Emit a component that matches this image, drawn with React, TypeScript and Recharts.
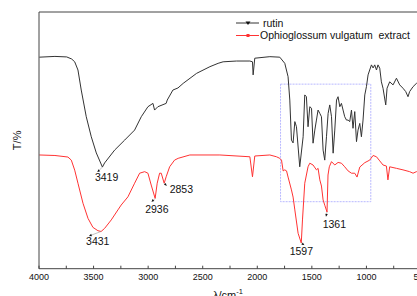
import React from 'react';
import { LineChart, Line, XAxis, YAxis, ReferenceArea, ReferenceDot, Legend } from 'recharts';

const rutinWavenumbers = [3997, 3854, 3746, 3701, 3673, 3643, 3613, 3567, 3521, 3475, 3419, 3399, 3307, 3215, 3124, 3063, 3002, 2956, 2941, 2911, 2835, 2825, 2773, 2727, 2679, 2556, 2434, 2359, 2313, 2190, 2068, 2044, 2038, 2023, 1885, 1794, 1748, 1718, 1702, 1687, 1672, 1656, 1641, 1611, 1580, 1565, 1550, 1535, 1519, 1503, 1489, 1473, 1458, 1443, 1427, 1412, 1397, 1382, 1366, 1351, 1336, 1320, 1305, 1290, 1274, 1260, 1244, 1229, 1214, 1199, 1183, 1168, 1153, 1137, 1123, 1107, 1091, 1077, 1061, 1046, 1031, 1015, 1000, 985, 970, 954, 939, 924, 908, 894, 878, 863, 848, 823, 811, 787, 756, 725, 695, 665, 640, 619, 604, 573, 542, 503];
const rutinTransmittance = [82.4, 82.7, 82.5, 81.7, 80.6, 77.4, 69.6, 59.2, 51.4, 45.1, 39.6, 41.2, 46.2, 50.1, 54.0, 59.2, 63.1, 64.4, 61.8, 63.1, 64.4, 65.7, 69.6, 70.4, 72.2, 76.1, 78.7, 80.0, 80.6, 80.9, 80.9, 80.6, 75.5, 82.0, 82.6, 82.4, 80.0, 74.8, 65.7, 50.1, 49.0, 57.3, 55.3, 39.7, 51.4, 67.7, 67.0, 55.3, 63.1, 62.5, 48.9, 54.0, 57.9, 61.8, 60.5, 59.2, 46.2, 42.3, 51.4, 60.5, 63.8, 59.2, 45.0, 54.0, 65.7, 67.0, 63.1, 64.4, 61.8, 59.2, 57.9, 57.9, 57.3, 61.8, 54.7, 61.2, 49.5, 54.0, 56.6, 51.4, 57.9, 67.7, 70.9, 75.5, 77.4, 79.4, 78.2, 79.4, 77.4, 79.4, 78.1, 72.8, 70.3, 63.8, 70.3, 72.8, 71.6, 74.2, 71.6, 70.3, 69.0, 67.0, 69.0, 70.9, 72.2, 72.7];

const extractWavenumbers = [3997, 3854, 3735, 3704, 3673, 3643, 3597, 3551, 3506, 3460, 3431, 3399, 3338, 3277, 3247, 3185, 3124, 3078, 3032, 3002, 2972, 2936, 2917, 2895, 2880, 2853, 2835, 2803, 2758, 2725, 2618, 2343, 2068, 2044, 2023, 1885, 1824, 1794, 1778, 1763, 1748, 1732, 1718, 1687, 1672, 1656, 1626, 1597, 1586, 1565, 1535, 1519, 1489, 1458, 1443, 1427, 1412, 1397, 1380, 1361, 1352, 1340, 1320, 1290, 1260, 1229, 1199, 1168, 1137, 1107, 1086, 1061, 1015, 970, 939, 908, 878, 848, 817, 803, 787, 725, 665, 604, 573, 542, 503];
const extractTransmittance = [44.3, 44.1, 43.5, 42.3, 38.4, 33.3, 25.5, 19.6, 16.1, 14.8, 14.5, 15.7, 19.0, 22.9, 24.8, 28.0, 33.3, 37.2, 37.8, 37.2, 32.6, 27.4, 33.3, 37.2, 37.2, 33.3, 35.8, 39.7, 42.3, 43.0, 44.3, 44.3, 43.6, 35.8, 43.9, 44.3, 43.6, 43.0, 42.3, 38.1, 38.5, 38.1, 35.7, 30.7, 27.9, 22.9, 13.8, 10.0, 19.0, 33.3, 39.7, 41.1, 40.4, 38.5, 39.1, 34.6, 32.2, 26.8, 24.5, 22.1, 36.5, 39.7, 41.7, 40.4, 41.4, 41.1, 39.7, 38.1, 37.2, 37.2, 35.7, 39.6, 41.3, 42.3, 44.1, 43.6, 42.0, 40.4, 40.0, 34.6, 39.7, 39.1, 38.5, 37.8, 37.2, 37.8, 38.1];

const xTicks = [4000, 3750, 3500, 3250, 3000, 2750, 2500, 2250, 2000, 1750, 1500, 1250, 1000, 750, 500];

const seriesNames = ['rutin', 'Ophioglossum vulgatum  extract'];

const peakLabels = ['3419', '3431', '2936', '2853', '1597', '1361'];
const peakWavenumbers = [3419, 3431, 2936, 2853, 1597, 1361];
const peakSeries = ['rutin', 'extract', 'extract', 'extract', 'extract', 'extract'];

const zoomBoxWavenumbers = [1787, 960];
const zoomBoxTransmittance = [26.1, 71.9];

const rutinData = rutinWavenumbers.map((wn, i) => ({ wn, t: rutinTransmittance[i] }));
const extractData = extractWavenumbers.map((wn, i) => ({ wn, t: extractTransmittance[i] }));

const peaks = peakLabels.map((label, i) => {
  const wn = peakWavenumbers[i];
  const isRutin = peakSeries[i] === 'rutin';
  const wns = isRutin ? rutinWavenumbers : extractWavenumbers;
  const ts = isRutin ? rutinTransmittance : extractTransmittance;
  return { label, wn, t: ts[wns.indexOf(wn)] };
});

// label styling offsets (pixels)
const labelStyle: Record<string, { tdx: number; tdy: number; adx: number; ady: number }> = {
  '3419': { tdx: -7.5, tdy: 14, adx: -5, ady: 5 },
  '3431': { tdx: -15, tdy: 14, adx: -12, ady: 4.5 },
  '2936': { tdx: -10, tdy: 14.5, adx: -3.5, ady: 3.5 },
  '2853': { tdx: 5.5, tdy: 9.5, adx: 2.5, ady: 2.5 },
  '1597': { tdx: -11.6, tdy: 12, adx: 3, ady: 2 },
  '1361': { tdx: -4.4, tdy: 16, adx: -1, ady: 4.5 },
};

const FONT = 'Liberation Sans, Arial, sans-serif';
const BLACK = '#333333';
const RED = '#ff3333';

function renderPeak(props: any, label: string) {
  const vb = props.viewBox || {};
  const x = vb.x + (vb.width || 0) / 2;
  const y = vb.y + (vb.height || 0) / 2;
  const s = labelStyle[label];
  const hx = x + s.adx;
  const hy = y + s.ady;
  const len = Math.hypot(s.adx, s.ady) || 1;
  const ux = s.adx / len;
  const uy = s.ady / len;
  const bx = hx - ux * 2.6;
  const by = hy - uy * 2.6;
  const px = -uy * 1.3;
  const py = ux * 1.3;
  return (
    <g>
      <line x1={x} y1={y} x2={hx} y2={hy} stroke="#999" strokeWidth={0.6} />
      <polygon points={`${hx},${hy} ${bx + px},${by + py} ${bx - px},${by - py}`} fill="#111" />
      <text x={x + s.tdx} y={y + s.tdy} fontSize={10.5} fontFamily={FONT} fill="#111">
        {label}
      </text>
    </g>
  );
}

const LegendContent = () => (
  <svg width={190} height={30} style={{ display: 'block' }}>
    <line x1={0} y1={7} x2={23} y2={7} stroke={BLACK} strokeWidth={1} />
    <polygon points="9.5,5.5 14.5,5.5 12,9" fill="#111" />
    <text x={27} y={10.7} fontSize={10.5} fontFamily={FONT} fill="#111">{seriesNames[0]}</text>
    <line x1={0} y1={19.5} x2={23} y2={19.5} stroke={RED} strokeWidth={1} />
    <rect x={10.5} y={18} width={3} height={3} fill={RED} />
    <text x={24} y={23.2} fontSize={10.5} fontFamily={FONT} fill="#111" style={{ whiteSpace: 'pre' }}>{seriesNames[1]}</text>
  </svg>
);

const XLabel = (props: any) => {
  const vb = props.viewBox || {};
  const cx = vb.x + vb.width / 2 - 2;
  return (
    <text x={cx} y={299} textAnchor="middle" fontSize={11} fontFamily={FONT} fill="#111">
      <tspan>λ/cm</tspan>
      <tspan dy={-5} fontSize={7.5}>-1</tspan>
    </text>
  );
};

export default function App() {
  return (
    <div style={{ position: 'fixed', left: 0, top: 0, width: 417, height: 296, overflow: 'hidden', background: '#fff' }}>
      <LineChart width={440} height={296} margin={{ top: 11, right: 19, bottom: 0.3, left: 38 }}>
        <XAxis
          dataKey="wn"
          type="number"
          domain={[500, 4000]}
          reversed
          allowDataOverflow
          ticks={xTicks}
          interval={0}
          tickFormatter={(v: number) => (v % 500 === 0 ? String(v) : '')}
          tickSize={-3}
          tickMargin={8}
          height={27}
          axisLine={{ stroke: '#444', strokeWidth: 1 }}
          tickLine={{ stroke: '#444', strokeWidth: 1 }}
          tick={{ fontSize: 9, fontFamily: FONT, fill: '#111' }}
          label={<XLabel />}
        />
        <XAxis
          xAxisId="top"
          orientation="top"
          dataKey="wn"
          type="number"
          domain={[500, 4000]}
          reversed
          height={1}
          tick={false}
          tickLine={false}
          axisLine={{ stroke: '#444', strokeWidth: 1 }}
        />
        <YAxis
          type="number"
          domain={[0, 100]}
          allowDataOverflow
          width={1}
          tick={false}
          tickLine={false}
          axisLine={{ stroke: '#444', strokeWidth: 1 }}
          label={{ value: 'T/%', angle: -90, position: 'center', dx: -21, fontSize: 11, fontFamily: FONT, fill: '#111' }}
        />
        <Legend
          layout="horizontal"
          verticalAlign="middle"
          align="center"
          content={<LegendContent />}
          wrapperStyle={{ position: 'absolute', left: 236, top: 16, width: 190, height: 30 }}
        />
        <ReferenceArea
          x1={zoomBoxWavenumbers[0]}
          x2={zoomBoxWavenumbers[1]}
          y1={zoomBoxTransmittance[0]}
          y2={zoomBoxTransmittance[1]}
          fill="none"
          fillOpacity={0}
          stroke="#b8b8ff"
          strokeWidth={1}
          strokeDasharray="2 1"
          ifOverflow="visible"
        />
        <Line
          data={rutinData}
          dataKey="t"
          name={seriesNames[0]}
          type="linear"
          stroke={BLACK}
          strokeWidth={1}
          dot={false}
          activeDot={false}
          isAnimationActive={false}
        />
        <Line
          data={extractData}
          dataKey="t"
          name={seriesNames[1]}
          type="linear"
          stroke={RED}
          strokeWidth={1}
          dot={false}
          activeDot={false}
          isAnimationActive={false}
        />
        {peaks.map((p) => (
          <ReferenceDot
            key={p.label}
            x={p.wn}
            y={p.t}
            r={0}
            fill="none"
            stroke="none"
            ifOverflow="visible"
            label={(props: any) => renderPeak(props, p.label)}
          />
        ))}
      </LineChart>
    </div>
  );
}
